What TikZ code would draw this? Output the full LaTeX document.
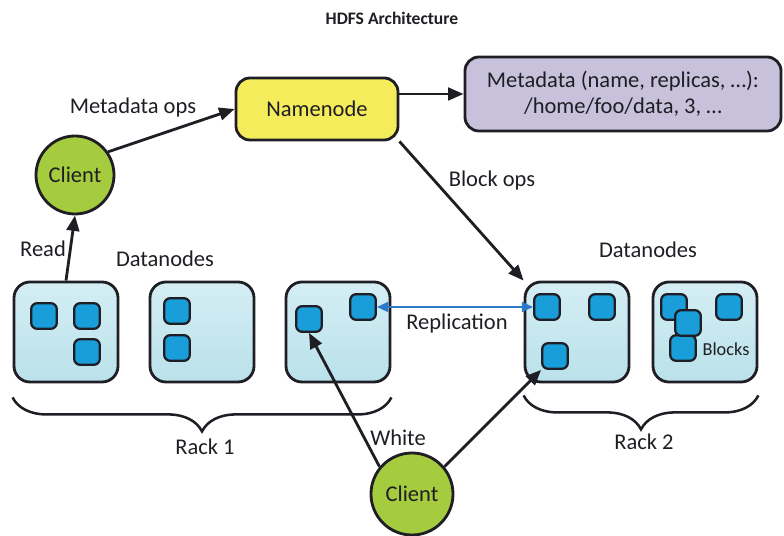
\documentclass[tikz,border=0pt]{standalone}
\usepackage{fontspec}
\setmainfont{Carlito}
\usepackage{tikz}
\usetikzlibrary{shapes,arrows.meta,positioning,decorations.pathreplacing,calc}
\definecolor{nameyellow}{RGB}{245,236,92}
\definecolor{metapurple}{RGB}{200,193,219}
\definecolor{clientgreen}{RGB}{165,204,62}
\definecolor{racktop}{RGB}{212,238,244}
\definecolor{rackbottom}{RGB}{186,225,234}
\definecolor{blockblue}{RGB}{26,158,218}
\definecolor{replblue}{RGB}{42,122,200}
\definecolor{outline}{RGB}{30,30,36}

\begin{document}
\begin{tikzpicture}[
    x=0.025cm, y=-0.025cm,
    every node/.style={font=\fontsize{16}{18.5}\selectfont, text=outline},
    namebox/.style={rectangle, draw=outline, fill=nameyellow, line width=2pt, rounded corners=0.35cm, minimum width=4.05cm, minimum height=1.55cm},
    metabox/.style={rectangle, draw=outline, fill=metapurple, line width=2pt, rounded corners=0.35cm, minimum width=7.9cm, minimum height=1.85cm, align=center},
    client/.style={circle, draw=outline, fill=clientgreen, line width=2pt, minimum size=1.95cm, inner sep=0pt},
    rack/.style={rectangle, draw=outline, line width=2pt, rounded corners=0.4cm, top color=racktop, bottom color=rackbottom, minimum width=2.6cm, minimum height=2.5cm},
    block/.style={rectangle, draw=outline, fill=blockblue, line width=1.6pt, rounded corners=0.15cm, minimum size=0.64cm, inner sep=0pt},
    link/.style={-{Triangle[length=11pt,width=9pt]}, line width=2pt, draw=outline},
    brace/.style={decorate, decoration={brace, mirror, amplitude=0.85cm}, line width=1.8pt, draw=outline}
]
    \useasboundingbox (0,0) rectangle (784,536);

    \node[font=\bfseries\fontsize{12.5}{14}\selectfont] (title) at (392,18) {HDFS Architecture};

    % namenode and metadata
    \node[namebox] (namenode) at (317,109) {Namenode};
    \node[metabox] (metadata) at (623,94) {Metadata (name, replicas, …):\\/home/foo/data, 3, …};

    % clients
    \node[client] (clientA) at (75,175) {Client};
    \node[client, minimum size=2.05cm] (clientB) at (412,494) {Client};

    % datanodes
    \node[rack] (dn1) at (66,332) {};
    \node[rack] (dn2) at (202,332) {};
    \node[rack] (dn3) at (338,332) {};
    \node[rack] (dn4) at (577,332) {};
    \node[rack] (dn5) at (705,332) {};

    % blocks
    \node[block] (b11) at (44,316) {};
    \node[block] (b12) at (87,316) {};
    \node[block] (b13) at (87,352) {};
    \node[block] (b21) at (177,311) {};
    \node[block] (b22) at (177,348) {};
    \node[block] (b31) at (309,319) {};
    \node[block] (b32) at (363,307) {};
    \node[block] (b41) at (547,307) {};
    \node[block] (b42) at (602,307) {};
    \node[block] (b43) at (555,356) {};
    \node[block] (b51) at (674,307) {};
    \node[block] (b52) at (729,307) {};
    \node[block] (b54) at (683,348) {};
    \node[block] (b53) at (688,323) {};
    \node[font=\fontsize{13}{15}\selectfont] (blocks) at (726,349) {Blocks};

    % labels
    \node (mops) at (133,108) {Metadata ops};
    \node (read) at (43,249) {Read};
    \node (bops) at (492,181) {Block ops};
    \node (repl) at (457,324) {Replication};
    \node (white) at (398,438) {White};
    \node (dnsA) at (165,259) {Datanodes};
    \node (dnsB) at (648,250) {Datanodes};
    \node (rackA) at (205,447) {Rack 1};
    \node (rackB) at (644,442) {Rack 2};

    % connectors
    \draw[link] (clientA.35) -- (namenode.west);
    \draw[link] (dn1.north) -- (clientA.south);
    \draw[link] (namenode.east |- metadata.west) -- (metadata.west);
    \draw[link] (namenode.south east) -- (dn4.north west);
    \draw[{Triangle[length=8pt,width=7pt]}-{Triangle[length=8pt,width=7pt]}, line width=1.5pt, draw=replblue] (b32.east) -- (b41.west);
    \draw[link] (clientB.140) -- (b31.south);
    \draw[link] (clientB.40) -- (b43.south west);

    % racks
    \draw[brace] ([yshift=-0.35cm]dn1.south west) -- ([yshift=-0.35cm]dn3.south east);
    \draw[brace] ([yshift=-0.3cm]dn4.south west) -- ([yshift=-0.3cm]dn5.south east);
\end{tikzpicture}
\end{document}
